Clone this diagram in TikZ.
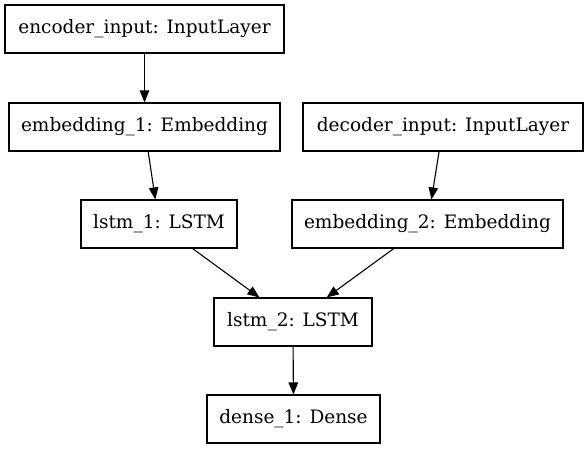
\documentclass[tikz,border=0pt]{standalone}
\usepackage{fontspec}
\setmainfont{DejaVu Serif}
\usetikzlibrary{arrows.meta}
\begin{document}
\begin{tikzpicture}[x=1pt,y=-1pt,
  layer/.style={draw, line width=1.1pt, inner sep=0pt, minimum height=48pt, font=\fontsize{18.5}{22}\selectfont},
  edge/.style={draw, line width=1.1pt, -{Triangle[length=12pt,width=9.5pt]}}]
\useasboundingbox[fill=white] (0,0) rectangle (588,449);
\node[layer, minimum width=279pt] (enc) at (144.5,29) {encoder\_input: InputLayer};
\node[layer, minimum width=271pt] (emb1) at (144.5,127) {embedding\_1: Embedding};
\node[layer, minimum width=280pt] (dec) at (443,127) {decoder\_input: InputLayer};
\node[layer, minimum width=156pt] (lstm1) at (159,224) {lstm\_1: LSTM};
\node[layer, minimum width=271pt] (emb2) at (427.5,224) {embedding\_2: Embedding};
\node[layer, minimum width=158pt] (lstm2) at (293,322) {lstm\_2: LSTM};
\node[layer, minimum width=173pt] (dense) at (293.5,419) {dense\_1: Dense};
\draw[edge] (enc) -- (emb1);
\draw[edge] (emb1) -- (lstm1);
\draw[edge] (dec) -- (emb2);
\draw[edge] (lstm1) -- (lstm2);
\draw[edge] (emb2) -- (lstm2);
\draw[edge] (lstm2) -- (dense);
\end{tikzpicture}
\end{document}
